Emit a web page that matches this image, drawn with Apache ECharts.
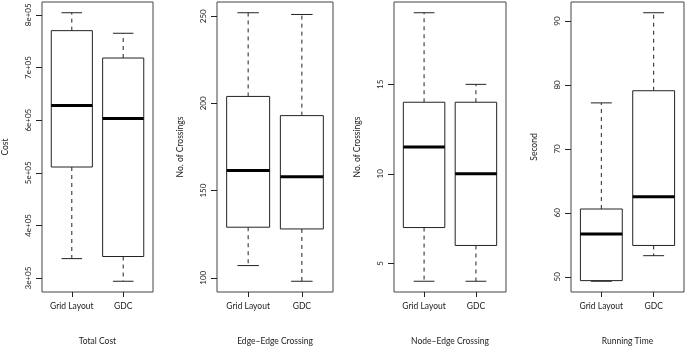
<!DOCTYPE html>
<html>
<head>
<meta charset="utf-8">
<script src="https://cdn.jsdelivr.net/npm/echarts@6/dist/echarts.min.js"></script>
<style>
  html, body { margin: 0; padding: 0; background: #fff; }
  #chart { width: 685px; height: 351px; }
</style>
</head>
<body>
<div id="chart"></div>
<script>
  // boxes are [position, min, Q1, median, Q3, max]
  const groups = ['Grid Layout', 'GDC']
  const totalCost = [
    [1, 337000, 511000, 628000, 770000, 804000],
    [2, 294000, 341000, 603000, 718000, 765000]
  ]
  const edgeEdge = [
    [1, 107, 129, 161.5, 204, 252],
    [2, 98, 128, 158, 193, 251]
  ]
  const nodeEdge = [
    [1, 4, 7, 11.5, 14, 19],
    [2, 4, 6, 10, 14, 15]
  ]
  const runTime = [
    [1, 49.3, 49.4, 56.7, 60.6, 77.2],
    [2, 53.3, 54.9, 62.5, 79.1, 91.3]
  ]
  const costTicks = [300000, 400000, 500000, 600000, 700000, 800000]
  const costLabels = ['3e+05', '4e+05', '5e+05', '6e+05', '7e+05', '8e+05']
  const eeTicks = [100, 150, 200, 250]
  const neTicks = [5, 10, 15]
  const rtTicks = [50, 60, 70, 80, 90]

  const panels = [
    { data: totalCost, ticks: costTicks, labels: costLabels, yName: 'Cost', xName: 'Total Cost', left: 41, width: 112 },
    { data: edgeEdge, ticks: eeTicks, yName: 'No. of Crossings', xName: 'Edge\u2013Edge Crossing', left: 217, width: 116 },
    { data: nodeEdge, ticks: neTicks, yName: 'No. of Crossings', xName: 'Node\u2013Edge Crossing', left: 394, width: 112 },
    { data: runTime, ticks: rtTicks, yName: 'Second', xName: 'Running Time', left: 571, width: 113 }
  ]

  const font = 'Lato, "Liberation Sans", sans-serif'
  const ink = '#222'

  // R style range: data extent plus 4% each side
  function range(data) {
    let lo = Infinity, hi = -Infinity
    data.forEach(d => { lo = Math.min(lo, d[1]); hi = Math.max(hi, d[5]) })
    const pad = (hi - lo) * 0.04
    return [lo - pad, hi + pad]
  }

  function renderBox(params, api) {
    const x = api.value(0)
    const w = api.size([0.8, 0])[0]
    const p = (v) => api.coord([x, api.value(v)])
    const lo = p(1), q1 = p(2), med = p(3), q3 = p(4), hi = p(5)
    const cx = lo[0]
    const dash = { stroke: ink, lineWidth: 1, lineDash: [4, 4] }
    const solid = { stroke: ink, lineWidth: 1 }
    return {
      type: 'group',
      children: [
        { type: 'line', shape: { x1: cx, y1: q3[1], x2: cx, y2: hi[1] }, style: dash },
        { type: 'line', shape: { x1: cx, y1: q1[1], x2: cx, y2: lo[1] }, style: dash },
        { type: 'line', shape: { x1: cx - w / 4, y1: hi[1], x2: cx + w / 4, y2: hi[1] }, style: solid },
        { type: 'line', shape: { x1: cx - w / 4, y1: lo[1], x2: cx + w / 4, y2: lo[1] }, style: solid },
        { type: 'rect', shape: { x: cx - w / 2, y: q3[1], width: w, height: q1[1] - q3[1] }, style: { fill: '#fff', stroke: ink, lineWidth: 1 } },
        { type: 'line', shape: { x1: cx - w / 2, y1: med[1], x2: cx + w / 2, y2: med[1] }, style: { stroke: '#000', lineWidth: 3 } }
      ]
    }
  }

  const chart = echarts.init(document.getElementById('chart'))
  const options = {
    animation: false,
    grid: panels.map(p => ({
      left: p.left, width: p.width, top: 2, bottom: 52,
      show: true, borderColor: '#444', borderWidth: 1, backgroundColor: 'transparent'
    })),
    xAxis: panels.map((p, i) => ({
      type: 'value', gridIndex: i, min: 0.42, max: 2.58,
      name: p.xName, nameLocation: 'middle', nameGap: 45,
      nameTextStyle: { fontFamily: font, fontSize: 8.5, color: ink },
      axisLine: { show: false },
      splitLine: { show: false },
      axisTick: { show: true, length: 5, lineStyle: { color: ink }, customValues: [1, 2] },
      axisLabel: {
        customValues: [1, 2], margin: 10,
        fontFamily: font, fontSize: 8.5, color: ink,
        formatter: v => groups[Math.round(v) - 1]
      }
    })),
    yAxis: panels.map((p, i) => {
      const r = range(p.data)
      return {
        type: 'value', gridIndex: i, min: r[0], max: r[1],
        name: p.yName, nameLocation: 'middle', nameGap: 32,
        nameTextStyle: { fontFamily: font, fontSize: 8.5, color: ink },
        axisLine: { show: false },
        splitLine: { show: false },
        axisTick: { show: true, length: 6, lineStyle: { color: ink }, customValues: p.ticks },
        axisLabel: {
          customValues: p.ticks, rotate: 90, margin: 10,
          fontFamily: font, fontSize: 8, color: ink,
          formatter: v => p.labels ? p.labels[p.ticks.indexOf(v)] : String(v)
        }
      }
    }),
    series: panels.map((p, i) => ({
      type: 'custom', xAxisIndex: i, yAxisIndex: i,
      renderItem: renderBox,
      encode: { x: 0, y: [1, 2, 3, 4, 5] },
      data: p.data
    }))
  }
  chart.setOption(options)
</script>
</body>
</html>
